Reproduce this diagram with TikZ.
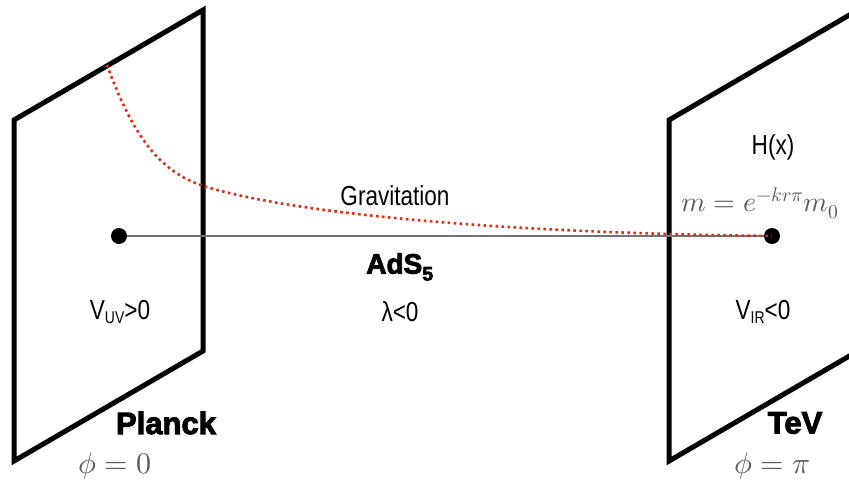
\documentclass[tikz,border=0pt]{standalone}
\usepackage{fontspec}
\usepackage{unicode-math}
\setmathfont{Latin Modern Math}
\setmainfont{Liberation Sans}
\newfontfamily\narrowsf{Liberation Sans}[FakeStretch=0.82]
\newfontfamily\blacksf{Liberation Sans}[UprightFont=* Bold, FakeBold=3]
\newcommand\lowsub[1]{\raisebox{-0.12em}{\fontsize{17}{17}\selectfont #1}}
\definecolor{gravred}{RGB}{225,45,20}
\definecolor{mathgray}{RGB}{90,90,90}
\tikzset{
  plane/.style={line width=5pt, line join=miter, line cap=round},
  ball/.style={circle, fill=black, inner sep=0pt, minimum size=16pt},
  lbl/.style={font=\narrowsf\fontsize{27.5}{29}\selectfont},
  heavy/.style={font=\blacksf\fontsize{31}{32}\selectfont},
  mlbl/.style={text=mathgray, font=\fontsize{28}{29}\selectfont},
  gravline/.style={draw=gravred, line width=2.6pt, dash pattern=on 2.6pt off 3.4pt},
  axis/.style={draw=black!55, line width=1.3pt}
}
\begin{document}
\begin{tikzpicture}[x=1pt, y=-1pt]
  \useasboundingbox (0,0) rectangle (849,482);
  \clip (0,0) rectangle (849,482);
  % planes
  \draw[plane] (14,120) -- (203,10) -- (203,351) -- (14,461) -- cycle;
  \draw[plane] (669,120) -- (858,10) -- (858,351) -- (669,461) -- cycle;
  % balls
  \node[ball] (uv) at (119,236) {};
  \node[ball] (ir) at (772,236) {};
  \draw[axis] (uv) -- (ir);
  % gravitation curve
  \coordinate (gstart) at (107,65);
  \coordinate (gmid) at (210,188);
  \draw[gravline] (gstart) .. controls (138,150) and (168,176) .. (gmid)
     .. controls (300,214) and (500,233) .. (ir.center);
  % labels
  \node[lbl] (grav) at (395,196) {Gravitation};
  \node[heavy, font=\blacksf\fontsize{28}{29}\selectfont] (ads) at (400,267) {AdS\textsubscript{5}};
  \node[lbl] (lam) at (400,312) {λ<0};
  \node[lbl] (vuv) at (120,312) {V\lowsub{UV}>0};
  \node[lbl] (vir) at (763,312) {V\lowsub{IR}<0};
  \node[lbl] (hx) at (773,147) {H(x)};
  \node[mlbl] (mass) at (760,203) {$m=e^{-kr\pi}m_0$};
  \node[heavy] (planck) at (166,423) {Planck};
  \node[heavy] (tev) at (795,423) {TeV};
  \node[mlbl, font=\fontsize{30}{31}\selectfont] (phi0) at (115,466) {$\phi=0$};
  \node[mlbl, font=\fontsize{30}{31}\selectfont] (phipi) at (772,466) {$\phi=\pi$};
\end{tikzpicture}
\end{document}
